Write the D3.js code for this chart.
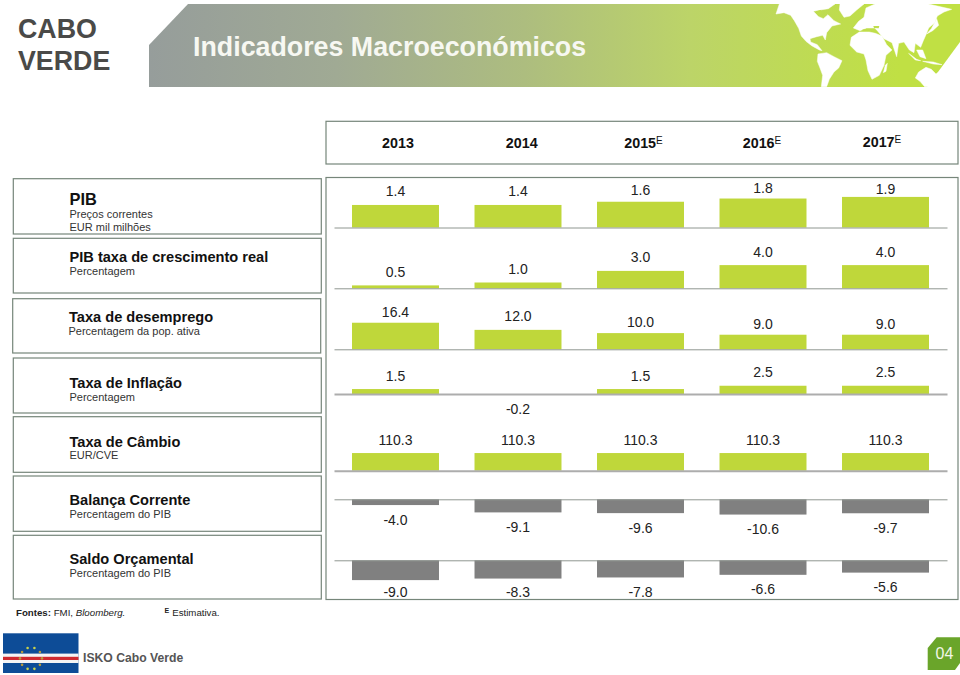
<!DOCTYPE html>
<html>
<head>
<meta charset="utf-8">
<script src="https://cdn.jsdelivr.net/npm/d3@7"></script>
<style>
  html, body { margin: 0; padding: 0; background: #fff; }
  svg { display: block; }
  text { font-family: "Liberation Sans", Arial, sans-serif; }
</style>
</head>
<body>
<div class="js-chart"></div>
<script>
const years = ["2013", "2014", "2015", "2016", "2017"];
const estimated = [false, false, true, true, true];

const pib = [1.4, 1.4, 1.6, 1.8, 1.9];
const crescimento = [0.5, 1.0, 3.0, 4.0, 4.0];
const desemprego = [16.4, 12.0, 10.0, 9.0, 9.0];
const inflacao = [1.5, -0.2, 1.5, 2.5, 2.5];
const cambio = [110.3, 110.3, 110.3, 110.3, 110.3];
const balanca = [-4.0, -9.1, -9.6, -10.6, -9.7];
const saldo = [-9.0, -8.3, -7.8, -6.6, -5.6];

const rowNames = ["PIB", "PIB taxa de crescimento real", "Taxa de desemprego", "Taxa de Inflação", "Taxa de Câmbio", "Balança Corrente", "Saldo Orçamental"];
const rowUnits = [["Preços correntes", "EUR mil milhões"], ["Percentagem"], ["Percentagem da pop. ativa"], ["Percentagem"], ["EUR/CVE"], ["Percentagem do PIB"], ["Percentagem do PIB"]];
const rowValues = [pib, crescimento, desemprego, inflacao, cambio, balanca, saldo];

// layout only, one entry per row
const boxTop = [178.7, 238.3, 298.7, 358, 416.7, 476, 535.3];
const boxBottom = [234, 293, 353, 413, 472.3, 531.3, 599];
const boxLeft = [13.3, 13.3, 12.7, 13.3, 13.3, 13.3, 13.3];
const titleY = [205, 262, 322.3, 388.3, 446.7, 505.3, 564];
const titleSize = [16.4, 14.6, 14.6, 14.6, 14.6, 14.6, 14.6];
const subY = [218.3, 275, 335, 401, 459.3, 517.7, 576.7];
const baseY = [227.5, 288.3, 349.3, 394, 470.7, 499.3, 560.3];
const pxPerUnit = [16.1, 5.8, 1.62, 3.3, 0.16, 1.44, 2.2];
const lineWidth = [1, 1, 1, 2, 2, 1, 1];
// the data labels were dragged by hand in the original, so each has its own gap
const labelGap = [
  [14, 14, 12, 10, 8],
  [13.5, 13.5, 13.5, 13.5, 13.5],
  [11, 14, 11, 11, 11],
  [13.3, 14.6, 13, 13.3, 13.3],
  [13, 13, 13, 13, 13],
  [15, 15, 15, 14.4, 14.4],
  [12.4, 14, 14.7, 14.6, 14.6]
];
const yearNudge = [2.5, 3.7, 3, -1, -3.5];

const width = 960, height = 675;
const green = "#bfd73a", gray = "#808080", boxStroke = "#76867a";

const svg = d3.select(".js-chart").append("svg")
  .attr("width", width)
  .attr("height", height);

const defs = svg.append("defs");
const grad = defs.append("linearGradient")
  .attr("id", "banner")
  .attr("gradientUnits", "userSpaceOnUse")
  .attr("x1", 149).attr("x2", 900).attr("y1", 0).attr("y2", 0);
[[0, "#969d9b"], [0.25, "#a0aa94"], [0.5, "#adbd7f"], [0.72, "#bcd468"], [1, "#c0e044"]].forEach(s => {
  grad.append("stop").attr("offset", s[0]).attr("stop-color", s[1]);
});

// banner
const line = d3.line();
svg.append("path")
  .attr("d", line([[149, 45], [188, 4], [960, 4], [960, 42], [938, 72], [927, 87], [149, 87]]) + "Z")
  .attr("fill", "url(#banner)");

// world map silhouette, traced by hand from the banner
const land = [
  [[58, 12], [48, 42], [72, 38], [92, 46], [103, 62], [116, 85], [124, 108], [138, 124], [155, 137], [178, 150], [186, 152], [172, 134], [152, 126], [150, 116], [170, 110], [188, 106], [196, 120], [200, 98], [216, 78], [242, 72], [222, 62], [204, 44], [190, 56], [176, 50], [160, 34], [180, 30], [205, 26], [225, 12]],
  [[240, 12], [312, 12], [290, 30], [270, 48], [252, 52], [238, 30]],
  [[174, 162], [200, 158], [222, 170], [246, 182], [236, 204], [222, 216], [208, 238], [200, 260], [184, 260], [188, 226], [180, 204], [172, 184]],
  [[274, 112], [298, 96], [328, 96], [346, 100], [366, 108], [380, 134], [396, 150], [378, 166], [372, 196], [358, 226], [336, 238], [324, 212], [318, 180], [312, 162], [290, 156], [270, 136]],
  [[280, 84], [296, 64], [312, 52], [318, 24], [345, 12], [505, 12], [575, 28], [552, 36], [532, 48], [524, 68], [506, 84], [498, 104], [490, 122], [482, 142], [466, 130], [462, 158], [448, 150], [432, 126], [416, 130], [410, 170], [396, 128], [372, 116], [352, 92], [344, 84], [320, 84], [300, 92]],
  [[530, 56], [536, 76], [518, 92], [500, 102], [514, 86]],
  [[446, 160], [470, 178], [482, 182], [466, 180]],
  [[470, 150], [488, 150], [498, 176], [480, 170]],
  [[488, 184], [520, 186], [546, 194], [520, 192]],
  [[476, 216], [498, 202], [514, 208], [528, 222], [540, 214], [512, 260], [494, 260], [480, 244], [466, 234]],
  [[376, 196], [382, 190], [378, 214], [370, 218]]
];
const sea = [
  [[168, 34], [182, 30], [186, 42], [172, 46]],
  [[306, 88], [342, 88], [346, 94], [316, 92]],
  [[340, 78], [358, 78], [356, 85], [342, 84]],
  [[162, 116], [174, 114], [176, 120], [166, 122]]
];
svg.append("g")
  .attr("transform", "translate(760,0) scale(0.3333)")
  .selectAll("path")
  .data(land)
  .join("path")
    .attr("d", d => line(d) + "Z")
    .attr("fill", "#fff")
    .attr("stroke", "#fff")
    .attr("stroke-width", 1.5)
    .attr("stroke-linejoin", "round");
svg.append("g")
  .attr("transform", "translate(760,0) scale(0.3333)")
  .selectAll("path")
  .data(sea)
  .join("path")
    .attr("d", d => line(d) + "Z")
    .attr("fill", "#c0de4c");

svg.append("text").attr("x", 193).attr("y", 56)
  .attr("font-size", 26.8).attr("font-weight", "bold").attr("fill", "#f7f8f2")
  .text("Indicadores Macroeconómicos");

svg.selectAll(".country")
  .data(["CABO", "VERDE"])
  .join("text")
    .attr("class", "country")
    .attr("x", 18)
    .attr("y", (d, i) => 37.7 + i * 32.3)
    .attr("font-size", 26.8)
    .attr("font-weight", "bold")
    .attr("fill", "#4a4a48")
    .text(d => d);

const x = d3.scaleBand()
  .domain(years)
  .range([334, 947])
  .paddingInner(0.29)
  .paddingOuter(0.147);

// year header
svg.append("rect")
  .attr("x", 326).attr("y", 121.3).attr("width", 632).attr("height", 42.7)
  .attr("fill", "#fff").attr("stroke", boxStroke).attr("stroke-width", 1.2);

const yearText = svg.selectAll(".year")
  .data(years)
  .join("text")
    .attr("class", "year")
    .attr("x", (d, i) => x(d) + x.bandwidth() / 2 + yearNudge[i])
    .attr("y", (d, i) => i == 4 ? 147 : 147.7)
    .attr("text-anchor", "middle")
    .attr("font-size", 14.3)
    .attr("font-weight", "bold")
    .attr("fill", "#111")
    .text(d => d);
yearText.filter((d, i) => estimated[i])
  .append("tspan")
    .attr("dy", -4)
    .attr("font-size", 10)
    .attr("font-weight", "normal")
    .text("E");

// left label boxes
const rowG = svg.selectAll(".row-label")
  .data(rowNames)
  .join("g")
    .attr("class", "row-label");

rowG.append("rect")
  .attr("x", (d, i) => boxLeft[i])
  .attr("y", (d, i) => boxTop[i])
  .attr("width", 308)
  .attr("height", (d, i) => boxBottom[i] - boxTop[i])
  .attr("fill", "#fff")
  .attr("stroke", boxStroke)
  .attr("stroke-width", 1.2);

rowG.append("text")
  .attr("x", (d, i) => i == 2 ? 69 : 69.5)
  .attr("y", (d, i) => titleY[i])
  .attr("font-size", (d, i) => titleSize[i])
  .attr("font-weight", "bold")
  .attr("fill", "#111")
  .text(d => d);

rowG.each(function(d, i) {
  d3.select(this).selectAll(".unit")
    .data(rowUnits[i])
    .join("text")
      .attr("class", "unit")
      .attr("x", i == 2 ? 68.5 : 69.5)
      .attr("y", (u, j) => subY[i] + j * 12.4)
      .attr("font-size", 11)
      .attr("fill", "#333")
      .text(u => u);
});

// bar panel
svg.append("rect")
  .attr("x", 326).attr("y", 177.5).attr("width", 632).attr("height", 422)
  .attr("fill", "#fff").attr("stroke", boxStroke).attr("stroke-width", 1.2);

rowValues.forEach((values, r) => {
  const y = d3.scaleLinear()
    .domain([0, 1])
    .range([baseY[r], baseY[r] - pxPerUnit[r]]);

  const g = svg.append("g").attr("class", "row-bars");

  g.selectAll("rect")
    .data(values)
    .join("rect")
      .attr("x", (d, i) => x(years[i]))
      .attr("y", d => Math.min(y(d), y(0)))
      .attr("width", x.bandwidth())
      .attr("height", d => Math.abs(y(d) - y(0)))
      .attr("fill", d => r >= 5 ? gray : green);

  const axis = g.append("g")
    .attr("transform", `translate(0,${baseY[r]})`)
    .call(d3.axisBottom(x).tickValues([]).tickSizeOuter(0));
  axis.select(".domain")
    .attr("stroke", lineWidth[r] > 1 ? "#adadad" : "#8f9690")
    .attr("stroke-width", lineWidth[r]);

  g.selectAll("text.value")
    .data(values)
    .join("text")
      .attr("class", "value")
      .attr("x", (d, i) => x(years[i]) + x.bandwidth() / 2)
      .attr("y", (d, i) => d < 0 ? y(d) + labelGap[r][i] : y(d) - labelGap[r][i])
      .attr("dy", "0.35em")
      .attr("text-anchor", "middle")
      .attr("font-size", 14)
      .attr("fill", "#222")
      .text(d => d.toFixed(1));
});

// footnotes
const src = svg.append("text").attr("x", 16).attr("y", 615.7)
  .attr("font-size", 9.7).attr("fill", "#222");
src.append("tspan").attr("font-weight", "bold").text("Fontes:");
src.append("tspan").text(" FMI, ");
src.append("tspan").attr("font-style", "italic").text("Bloomberg.");

const est = svg.append("text").attr("x", 164.5).attr("y", 615.7)
  .attr("font-size", 9.7).attr("fill", "#222");
est.append("tspan").attr("font-size", 7).attr("font-weight", "bold").attr("dy", -3).text("E");
est.append("tspan").attr("dy", 3).attr("dx", 3).text("Estimativa.");

// flag
const flag = svg.append("g");
flag.append("rect").attr("x", 3).attr("y", 633.3).attr("width", 75.5).attr("height", 39.7).attr("fill", "#0d4c97");
flag.append("rect").attr("x", 3).attr("y", 653.6).attr("width", 75.5).attr("height", 9.4).attr("fill", "#f4f4f4");
flag.append("rect").attr("x", 3).attr("y", 656.8).attr("width", 75.5).attr("height", 3.2).attr("fill", "#cf2a30");
flag.selectAll("circle")
  .data(d3.range(10))
  .join("circle")
    .attr("cx", i => 31 + 11 * Math.cos(i * Math.PI / 5))
    .attr("cy", i => 658.4 + 11 * Math.sin(i * Math.PI / 5))
    .attr("r", 1.3)
    .attr("fill", i => (i == 0 || i == 5 || i == 1 || i == 4 || i == 6 || i == 9) ? "#b79b3c" : "#c9d24a");

svg.append("text").attr("x", 83).attr("y", 661.7)
  .attr("font-size", 12.2).attr("font-weight", "bold").attr("fill", "#555")
  .text("ISKO Cabo Verde");

// page badge
svg.append("path")
  .attr("d", line([[936.7, 637.3], [960, 637.3], [960, 663], [955, 670], [927.7, 670], [927.7, 648]]) + "Z")
  .attr("fill", "#6aa52a");
svg.append("text").attr("x", 944.5).attr("y", 659)
  .attr("text-anchor", "middle").attr("font-size", 16).attr("fill", "#f2f7e8")
  .text("04");
</script>
</body>
</html>
